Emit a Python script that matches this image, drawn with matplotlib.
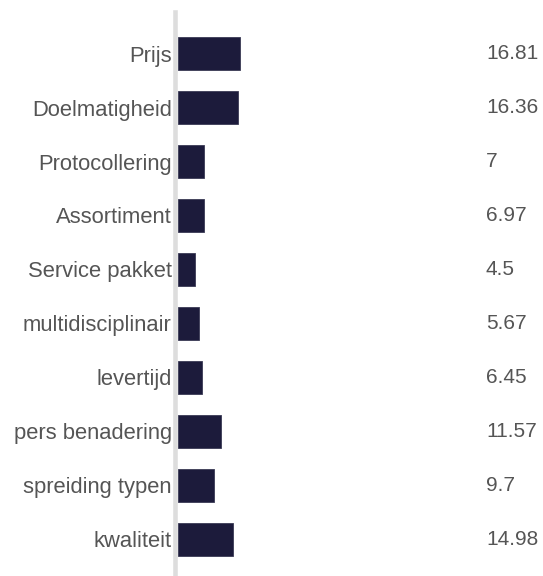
import matplotlib
matplotlib.use("Agg")
import matplotlib.pyplot as plt
import matplotlib.transforms as mtransforms

categories = ["Prijs", "Doelmatigheid", "Protocollering", "Assortiment", "Service pakket",
              "multidisciplinair", "levertijd", "pers benadering", "spreiding typen", "kwaliteit"]
values = [16.81, 16.36, 7, 6.97, 4.5, 5.67, 6.45, 11.57, 9.7, 14.98]
value_labels = ["16.81", "16.36", "7", "6.97", "4.5", "5.67", "6.45", "11.57", "9.7", "14.98"]

W, H = 543, 576
fig = plt.figure(figsize=(W / 100, H / 100), dpi=100)
plt.rcParams['font.family'] = ['Liberation Sans', 'DejaVu Sans']

left_px = 178
ax = fig.add_axes([left_px / W, 0, (W - left_px) / W, (H - 12) / H])

pos = list(range(len(categories)))
ax.barh(pos, values, height=0.61, color="#1c1b3b", edgecolor="#3a3a55", linewidth=0.6, zorder=3)
ax.set_xlim(0, (W - left_px) / 3.69)
ax.set_ylim(9.68, -0.77)

for s in ["top", "right", "bottom"]:
    ax.spines[s].set_visible(False)
ax.spines["left"].set_color("#dddddd")
ax.spines["left"].set_linewidth(3.3)
ax.spines["left"].set_position(("outward", 1.9))

ax.set_xticks([])
ax.set_yticks(pos)
ax.set_yticklabels(categories, fontsize=15.8, color="#555555")
ax.tick_params(axis="y", length=0, pad=2.6)

trans = mtransforms.blended_transform_factory(ax.transAxes, ax.transData)
xval = (486 - left_px) / (W - left_px)
for i, lab in enumerate(value_labels):
    ax.text(xval, i, lab, transform=trans, ha="left", va="center", fontsize=15, color="#555555")

fig.savefig("out.png", dpi=100)
